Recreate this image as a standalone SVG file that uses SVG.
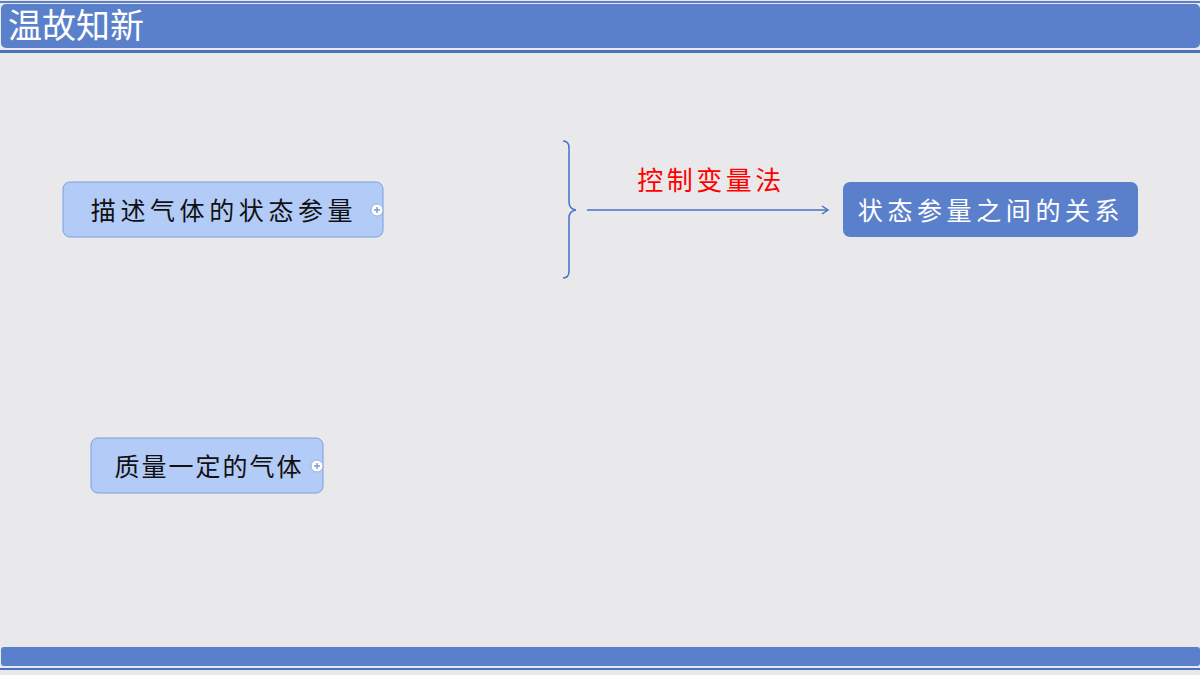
<svg xmlns="http://www.w3.org/2000/svg" width="1200" height="675" viewBox="0 0 1200 675">
<style>
.cjk{font-family:"Noto Sans CJK SC","Noto Sans",sans-serif}
.node{fill:#b3cbf7;stroke:#7b9de0;stroke-width:1}
.plus circle{fill:#fff;stroke:#9ab0dc;stroke-width:1}
.plus path{stroke:#7b9de0;stroke-width:1.5}
</style>
<defs>
<marker id="arr" markerWidth="10" markerHeight="10" refX="8" refY="5" orient="auto" markerUnits="userSpaceOnUse">
<path d="M2,1 L8,5 L2,9" fill="none" stroke="#4472c4" stroke-width="1.5"/>
</marker>
</defs>
<rect width="1200" height="675" fill="#e9e9eb"/>
<rect x="0" y="1" width="1200" height="2" fill="#5b80c9"/>
<rect x="1" y="4" width="1199" height="44" rx="5" fill="#5b80cb"/>
<rect x="0" y="50" width="1200" height="3" fill="#4a70c0"/>
<text x="8" y="38" class="cjk" font-size="34" fill="#fff">温故知新</text>
<rect x="1" y="647" width="1199" height="19" rx="3" fill="#5b80cb"/>
<rect x="0" y="668" width="1200" height="2" fill="#4a70c0"/>
<g id="node1">
<rect class="node" x="63" y="182" width="320" height="55" rx="7"/>
<text x="224" y="220" class="cjk" font-size="25" fill="#111" text-anchor="middle" letter-spacing="4.6">描述气体的状态参量</text>
<g class="plus"><circle cx="377" cy="210" r="6"/><path d="M374,210h6M377,207v6"/></g>
</g>
<g id="node2">
<rect class="node" x="91" y="438" width="232" height="55" rx="7"/>
<text x="209" y="476" class="cjk" font-size="25" fill="#111" text-anchor="middle" letter-spacing="2">质量一定的气体</text>
<g class="plus"><circle cx="317" cy="466" r="6"/><path d="M314,466h6M317,463v6"/></g>
</g>
<g id="node3">
<rect x="843" y="182" width="295" height="55" rx="7" fill="#5b80cb"/>
<text x="991" y="220" class="cjk" font-size="25" fill="#fff" text-anchor="middle" letter-spacing="4.6">状态参量之间的关系</text>
</g>
<g id="connectors">
<path d="M563,141 Q569,141 569,148 L569,202 Q569,209 576,210 Q569,211 569,218 L569,271 Q569,278 563,278" fill="none" stroke="#4472c4" stroke-width="1.5"/>
<line x1="587" y1="210" x2="828" y2="210" stroke="#4472c4" stroke-width="1.5" marker-end="url(#arr)"/>
<text x="711" y="190" class="cjk" font-size="26" fill="#ff0000" text-anchor="middle" letter-spacing="3.5">控制变量法</text>
</g>
</svg>
